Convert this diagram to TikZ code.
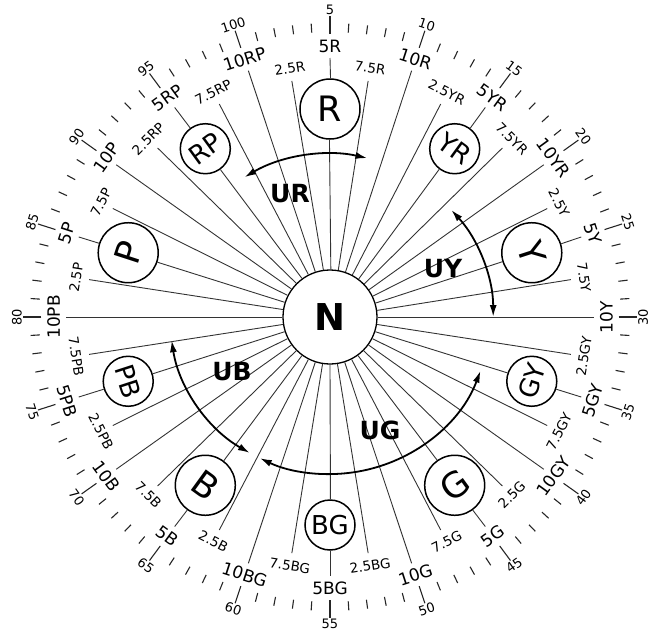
\documentclass[tikz,border=0pt]{standalone}
\usepackage{fontspec}
\setmainfont{DejaVu Sans}
\usetikzlibrary{arrows.meta}
\newcommand\setang[1]{%
  \pgfmathsetmacro\th{108-3.6*(#1)}%
  \pgfmathsetmacro\thn{\th<-179.99 ? \th+360 : \th}%
  \pgfmathsetmacro\rot{\thn>0.01 ? \thn-90 : \thn+90}%
  \pgfmathsetmacro\thb{\th+180}}
\begin{document}
\begin{tikzpicture}[x=1pt,y=1pt,
  ray/.style={draw=black!80, line width=0.9pt},
  tickmark/.style={draw=black!85, line width=1.1pt},
  hcirc/.style={circle, draw, line width=1.5pt, inner sep=0pt, fill=white},
  huebig/.style={hcirc, minimum size=60pt},
  huesmall/.style={hcirc, minimum size=50pt},
  bigtext/.style={inner sep=0pt, font=\fontsize{35}{35}\selectfont},
  smalltext/.style={inner sep=0pt, font=\fontsize{26}{26}\selectfont},
  mainlab/.style={inner sep=0pt, font=\fontsize{17}{17}\selectfont},
  sublab/.style={inner sep=0pt, font=\fontsize{13.5}{13.5}\selectfont},
  numlab/.style={inner sep=0pt, font=\fontsize{13}{13}\selectfont},
  uarc/.style={line width=1.8pt, {Latex[length=12pt,width=7pt]}-{Latex[length=12pt,width=7pt]}},
  ulab/.style={inner sep=0pt, font=\fontsize{25}{25}\selectfont\bfseries},
]
\useasboundingbox (-330,-321) rectangle (320,317);
\begin{scope}[xscale=1.02]
\node[circle, draw, line width=1.3pt, minimum size=94pt, inner sep=0pt, fill=white,
      font=\fontsize{37}{37}\selectfont\bfseries] (N) at (0,0) {N};
\foreach \fam/\cs/\ts [count=\j from 0] in {R/huebig/bigtext, YR/huesmall/smalltext,
    Y/huebig/bigtext, GY/huesmall/smalltext, G/huebig/bigtext, BG/huesmall/smalltext,
    B/huebig/bigtext, PB/huesmall/smalltext, P/huebig/bigtext, RP/huesmall/smalltext}{
  % 2.5 and 7.5
  \foreach \s/\nm in {2.5/a,7.5/c}{
    \setang{10*\j+\s}
    \coordinate (e\j\nm) at (\th:239);
    \draw[ray] (N.\th) -- (e\j\nm);
    \node[sublab, rotate=\rot] (l\j\nm) at (\th:252) {\s\fam};
  }
  % 5
  \setang{10*\j+5}
  \node[\cs] (h\j) at (\th:208) {};
  \node[\ts, rotate=\rot] (t\j) at (h\j) {\fam};
  \draw[ray] (N.\th) -- (h\j.\thb);
  \coordinate (s\j) at (\th:259);
  \draw[ray] (h\j.\th) -- (s\j);
  \node[mainlab, rotate=\rot] (m\j) at (\th:271) {5\fam};
  % 10
  \setang{10*\j+10}
  \coordinate (e\j d) at (\th:259);
  \draw[ray] (N.\th) -- (e\j d);
  \node[mainlab, rotate=\rot] (l\j d) at (\th:271) {10\fam};
}
% outer scale
\foreach \n in {1,...,100}{
  \setang{\n}
  \pgfmathtruncatemacro\m{mod(\n,5)}
  \ifnum\m=0
    \coordinate (ta\n) at (\th:283);
    \coordinate (tb\n) at (\th:301);
    \draw[tickmark] (ta\n) -- (tb\n);
    \node[numlab, rotate=\rot] (n\n) at (\th:307) {\n};
  \else
    \coordinate (ta\n) at (\th:285);
    \coordinate (tb\n) at (\th:294);
    \draw[tickmark] (ta\n) -- (tb\n);
  \fi
}
% arcs
\draw[uarc] (121:163) arc[start angle=121, end angle=77, radius=163];
\draw[uarc] (42:160) arc[start angle=42, end angle=0, radius=160];
\draw[uarc] (188.5:157) arc[start angle=188.5, end angle=240, radius=157];
\draw[uarc] (340:157) arc[start angle=340, end angle=244, radius=157];
\end{scope}
\node[ulab] (ur) at (-40,123) {UR};
\node[ulab] (uy) at (113,48) {UY};
\node[ulab] (ub) at (-98,-55) {UB};
\node[ulab] (ug) at (50,-113) {UG};
\end{tikzpicture}
\end{document}
